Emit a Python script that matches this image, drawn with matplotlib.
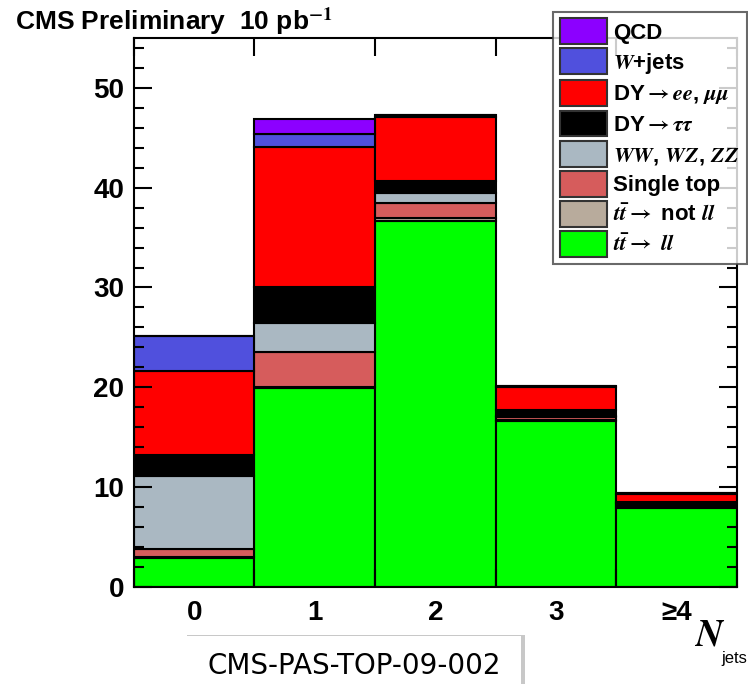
import matplotlib
matplotlib.use("Agg")
import matplotlib.pyplot as plt
import matplotlib.patches as mpatches
import numpy as np

plt.rcParams['font.family'] = ['Liberation Sans', 'DejaVu Sans']
plt.rcParams['font.weight'] = 'bold'
plt.rcParams['mathtext.fontset'] = 'stix'

# jet multiplicity bins
bins = ["0", "1", "2", "3", "≥4"]

# stacked contributions (events), bottom -> top
ttll    = [2.9, 19.9, 36.65, 16.6, 7.9]
ttnotll = [0.1, 0.1, 0.3, 0.1, 0.2]
stop    = [0.75, 3.5, 1.55, 0.35, 0.2]
diboson = [7.35, 2.9, 1.0, 0.1, 0.1]
dytautau = [2.05, 3.65, 1.15, 0.55, 0.1]
dyeemm  = [8.5, 14.0, 6.5, 2.3, 0.8]
wjets   = [3.5, 1.35, 0.15, 0.15, 0.1]
qcd     = [0.0, 1.5, 0.0, 0.0, 0.0]

samples = [
    (ttll,     "#00ff00", r"$t\bar{t}\rightarrow\ ll$"),
    (ttnotll,  "#b8ab9c", r"$t\bar{t}\rightarrow$ not $ll$"),
    (stop,     "#d65c5c", "Single top"),
    (diboson,  "#aab8c2", r"$WW$, $WZ$, $ZZ$"),
    (dytautau, "#000000", r"DY$\rightarrow\tau\tau$"),
    (dyeemm,   "#ff0000", r"DY$\rightarrow ee$, $\mu\mu$"),
    (wjets,    "#5050dd", r"$W$+jets"),
    (qcd,      "#8c00ff", "QCD"),
]

fig = plt.figure(figsize=(7.48, 6.84), dpi=100)
ax = fig.add_axes([0.179, 0.1425, 0.806, 0.8015])

x = np.arange(len(bins)) + 0.5
bottom = np.zeros(len(bins))
handles = []
for vals, col, lab in samples:
    vals = np.array(vals)
    ax.bar(x, vals, width=1.0, bottom=bottom, color=col, edgecolor="black",
           linewidth=1.5, label=lab)
    bottom += vals
    handles.append(mpatches.Patch(facecolor=col, edgecolor="#333333",
                                  linewidth=1.5, label=lab))

ax.set_xlim(0, 5)
ax.set_ylim(0, 55)
for s in ax.spines.values():
    s.set_linewidth(1.5)

ax.set_xticks(np.arange(0, 6))
ax.set_xticklabels([])
ax.set_xticks(x, bins, minor=True)
ax.tick_params(axis='x', which='major', direction='in', length=13, width=1.5,
               top=True, bottom=True)
ax.tick_params(axis='x', which='minor', length=0, pad=10, labelsize=20)
ax.set_yticks(np.arange(0, 51, 10))
ax.set_yticks(np.arange(0, 55, 2), minor=True)
ax.tick_params(axis='y', which='major', direction='in', length=13, width=1.5,
               left=True, right=True, labelsize=20, pad=7)
ax.tick_params(axis='y', which='minor', direction='in', length=7, width=1.5,
               left=True, right=True)

fig.text(0.02, 0.945, r"CMS Preliminary  10 pb$^{\mathbf{-1}}$", fontsize=19,
         fontweight='bold', ha='left', va='bottom')

leg = fig.legend(handles[::-1], [h.get_label() for h in handles[::-1]],
                 loc='upper right', bbox_to_anchor=(0.998, 0.983),
                 fontsize=16, frameon=True, fancybox=False, borderaxespad=0,
                 handlelength=2.1, handleheight=1.4, handletextpad=0.3,
                 labelspacing=0.2, borderpad=0.3)
leg.get_frame().set_edgecolor("#444444")
leg.get_frame().set_linewidth(1.5)

# x axis title
fig.text(0.928, 0.045, r"$N$", fontsize=27, ha='left', va='bottom')
fig.text(0.964, 0.026, "jets", fontsize=12, fontweight='normal', ha='left', va='bottom')

# document reference box with shadow
fig.patches.append(mpatches.Rectangle((0.250, -0.02), 0.452, 0.092, transform=fig.transFigure,
                                      facecolor="#c8c8c8", edgecolor="none", zorder=5))
fig.patches.append(mpatches.Rectangle((0.245, -0.02), 0.452, 0.09, transform=fig.transFigure,
                                      facecolor="white", edgecolor="none", zorder=6))
fig.text(0.473, 0.027, "CMS-PAS-TOP-09-002", fontsize=20, fontweight='normal',
         family=['DejaVu Sans'], ha='center', va='center', zorder=7)

fig.savefig("out.png", dpi=100)
